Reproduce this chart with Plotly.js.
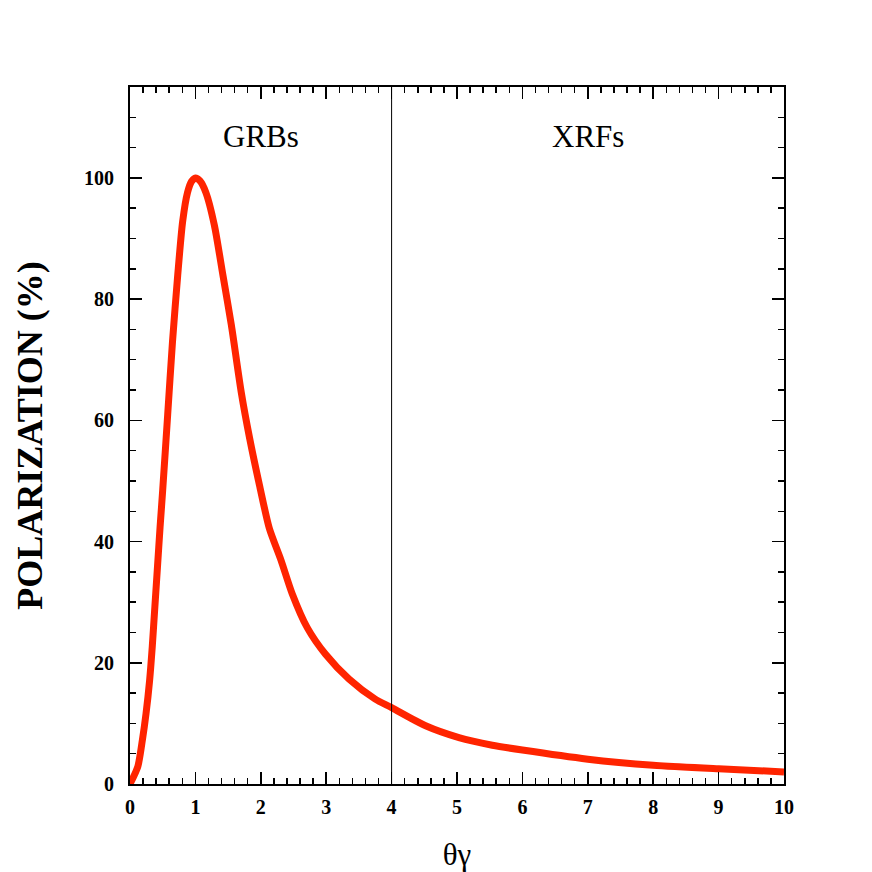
<!DOCTYPE html>
<html>
<head>
<meta charset="utf-8">
<script src="https://cdn.plot.ly/plotly-3.0.1.min.js"></script>
<style>
  html, body { margin: 0; padding: 0; background: #ffffff; }
  #chart { width: 872px; height: 872px; }
</style>
</head>
<body>
<div id="chart"></div>
<script>
// Polarization vs theta*gamma
const thetaGamma = [0, 0.12, 0.19, 0.245, 0.30, 0.34, 0.38, 0.42, 0.46, 0.5, 0.576, 0.65, 0.73, 0.805, 0.88, 0.94, 1.0, 1.07, 1.16, 1.29, 1.42, 1.55, 1.70, 1.83, 1.98, 2.13, 2.31, 2.48, 2.71, 2.99, 3.35, 3.75, 4.0, 4.52, 5.03, 5.54, 6.0, 7.0, 8.0, 9.0, 10.0];
const polarization = [0, 2.9, 7.3, 11.6, 17.1, 22.6, 29.2, 35.8, 42.4, 48.5, 60.9, 73, 84, 92.8, 97.6, 99.4, 100, 99.5, 97.6, 92.2, 84, 75.7, 64.7, 57, 49.3, 42.2, 36.9, 31.4, 25.8, 21.4, 17.3, 14.0, 12.6, 9.6, 7.65, 6.4, 5.6, 4.1, 3.1, 2.5, 2.0];

const dividerX = 4;
const regionLabels = ["GRBs", "XRFs"];
const regionLabelX = [2, 7];
const regionLabelY = 106.8;

const xTitle = "θγ";
const yTitle = "POLARIZATION (%)";

const serif = "'Liberation Serif', 'Times New Roman', serif";

const traces = [{
  x: thetaGamma,
  y: polarization,
  type: "scatter",
  mode: "lines",
  line: { color: "#ff2400", width: 7, shape: "spline", smoothing: 0.7 },
  hoverinfo: "x+y",
  showlegend: false
}];

const axisCommon = {
  showline: true,
  linecolor: "#000000",
  linewidth: 2,
  mirror: "ticks",
  ticks: "inside",
  ticklen: 12,
  tickwidth: 1.5,
  tickcolor: "#000000",
  showgrid: false,
  zeroline: false,
  tickfont: { family: serif, size: 20, color: "#000000", weight: "bold" }
};

const layout = {
  width: 872,
  height: 872,
  paper_bgcolor: "#ffffff",
  plot_bgcolor: "#ffffff",
  margin: { l: 130, r: 88, t: 87, b: 88 },
  xaxis: Object.assign({}, axisCommon, {
    range: [0, 10],
    dtick: 1,
    tick0: 0,
    ticklabelstandoff: 4,
    minor: { dtick: 0.2, ticks: "inside", ticklen: 6, tickwidth: 1.5, tickcolor: "#000000" },
    title: { text: xTitle, font: { family: serif, size: 31, color: "#000000" }, standoff: 26 }
  }),
  yaxis: Object.assign({}, axisCommon, {
    range: [0, 115],
    dtick: 20,
    tick0: 0,
    ticklabelstandoff: 10,
    minor: { dtick: 5, ticks: "inside", ticklen: 6, tickwidth: 1.5, tickcolor: "#000000" },
    title: { text: yTitle, font: { family: serif, size: 36, color: "#000000", weight: "bold" }, standoff: 30 }
  }),
  shapes: [{
    type: "line",
    xref: "x", yref: "paper",
    x0: dividerX, x1: dividerX, y0: 0, y1: 1,
    line: { color: "#000000", width: 1 }
  }],
  annotations: regionLabels.map((t, i) => ({
    x: regionLabelX[i], y: regionLabelY,
    xref: "x", yref: "y",
    text: t, showarrow: false,
    font: { family: serif, size: 31, color: "#000000" }
  }))
};

Plotly.newPlot("chart", traces, layout, { displayModeBar: false, staticPlot: true });
</script>
</body>
</html>
